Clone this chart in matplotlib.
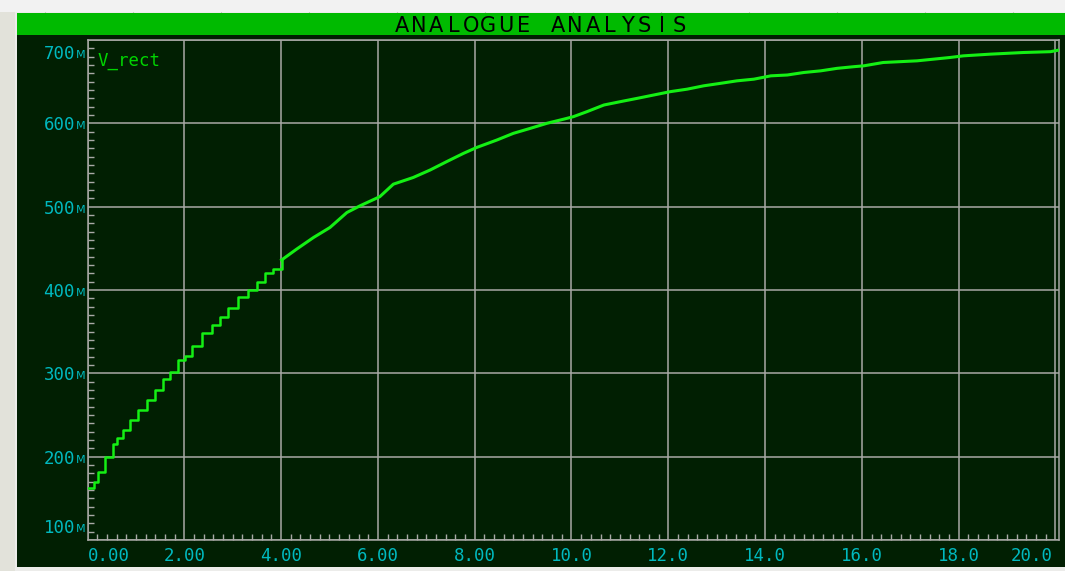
import numpy as np
import matplotlib.pyplot as plt
from matplotlib.patches import Rectangle
from matplotlib import transforms

# V_rect readings (time, volts) taken from the trace
t = [0.0, 0.14, 0.21, 0.36, 0.53, 0.60, 0.74, 0.88, 1.05, 1.22, 1.39, 1.57, 1.70,
     1.88, 2.01, 2.15, 2.36, 2.57, 2.74, 2.91, 3.12, 3.32, 3.50, 3.67, 3.84, 4.01,
     4.32, 4.67, 5.01, 5.36, 5.63, 6.04, 6.32, 6.73, 7.08, 7.42, 7.77, 8.04, 8.46,
     8.80, 9.15, 9.49, 9.84, 10.04, 10.32, 10.67, 11.01, 11.36, 11.70, 12.04, 12.39,
     12.73, 13.08, 13.42, 13.77, 14.12, 14.46, 14.80, 15.15, 15.49, 15.84, 16.04,
     16.44, 17.14, 17.82, 18.10, 18.65, 19.34, 19.90, 20.08]
v_rect = [0.162, 0.170, 0.182, 0.200, 0.215, 0.223, 0.232, 0.244, 0.256, 0.268, 0.280,
          0.293, 0.302, 0.316, 0.321, 0.333, 0.348, 0.358, 0.368, 0.378, 0.392, 0.400,
          0.410, 0.421, 0.425, 0.436, 0.449, 0.463, 0.475, 0.493, 0.501, 0.512, 0.527,
          0.535, 0.544, 0.554, 0.564, 0.571, 0.580, 0.588, 0.594, 0.600, 0.605, 0.608,
          0.614, 0.622, 0.626, 0.630, 0.634, 0.638, 0.641, 0.645, 0.648, 0.651, 0.653,
          0.657, 0.658, 0.661, 0.663, 0.666, 0.668, 0.669, 0.673, 0.675, 0.679, 0.681,
          0.683, 0.685, 0.686, 0.688]

x_ticks = [0, 2, 4, 6, 8, 10, 12, 14, 16, 18, 20]
x_labels = ['0.00', '2.00', '4.00', '6.00', '8.00', '10.0', '12.0', '14.0', '16.0', '18.0', '20.0']
y_ticks = [0.1, 0.2, 0.3, 0.4, 0.5, 0.6, 0.7]
y_labels = ['100', '200', '300', '400', '500', '600', '700']
title = 'ANALOGUE ANALYSIS'
trace_name = 'V_rect'

W, H = 1065, 571
dark = '#011f02'
grid_c = '#a9a9a6'
cyan = '#00b9bf'
lime = '#14f014'

fig = plt.figure(figsize=(W / 100, H / 100), dpi=100, facecolor='#ececea')

# outer frame / ruler strips
fig.patches.append(Rectangle((0, 0), 15 / W, 1, transform=fig.transFigure,
                             facecolor='#e2e2da', edgecolor='none', zorder=0))
fig.patches.append(Rectangle((0, (H - 12) / H), 1, 12 / H, transform=fig.transFigure,
                             facecolor='#f2f2f2', edgecolor='none', zorder=0))
for yy in range(30, H, 88):
    fig.add_artist(plt.Line2D([0, 12 / W], [(H - yy) / H] * 2, color='#c8c8c0', lw=0.8, zorder=0))
for xx in range(45, W, 88):
    fig.add_artist(plt.Line2D([xx / W] * 2, [(H - 12) / H, (H - 9) / H], color='#c8c8c0', lw=0.8, zorder=0))

# dark panel and title bar
fig.patches.append(Rectangle((17 / W, (H - 567) / H), (W - 17) / W, (567 - 35) / H,
                             transform=fig.transFigure, facecolor=dark, edgecolor='none', zorder=0))
fig.patches.append(Rectangle((17 / W, (H - 35) / H), (W - 17) / W, 22 / H,
                             transform=fig.transFigure, facecolor='#00ba00', edgecolor='none', zorder=0))
x0, step = 393, 17.35
for i, ch in enumerate(title):
    fig.text((x0 + step * (i + 0.5)) / W, (H - 24.5) / H, ch, ha='center', va='center_baseline',
             fontsize=15, family='DejaVu Sans', color='black')

ax = fig.add_axes([87.5 / W, (H - 540) / H, 971.8 / W, 500 / H])
ax.set_zorder(5)
ax.set_facecolor(dark)
# early part: clear staircase; later part: dense fine steps -> drawn as a jagged line
k = 26
ax.plot(t[:k], v_rect[:k], drawstyle='steps-post', color=lime, lw=1.8, zorder=3)
ax.plot(t[k - 1:], v_rect[k - 1:], color=lime, lw=2.2, zorder=3)
ax.set_xlim(0, 20.08)
ax.set_ylim(0.105, 0.699)

ax.set_xticks(x_ticks)
ax.set_yticks(y_ticks)
ax.set_xticks(np.arange(0, 20.1, 0.2), minor=True)
ax.set_yticks(np.arange(0.1, 0.701, 0.01), minor=True)
ax.tick_params(which='both', direction='in', color=grid_c, labelbottom=False, labelleft=False)
ax.tick_params(which='major', length=0)
ax.tick_params(which='minor', length=4, width=1.0)
ax.grid(True, which='major', color=grid_c, lw=1.1)
for s in ax.spines.values():
    s.set_color(grid_c)
    s.set_linewidth(1.1)

# x tick labels
tx = transforms.blended_transform_factory(ax.transData, ax.transAxes)
for i, (xv, lab) in enumerate(zip(x_ticks, x_labels)):
    ha = 'left' if i == 0 else ('right' if i == len(x_ticks) - 1 else 'center')
    dx = -3 if i == len(x_ticks) - 1 else 0
    tr = transforms.offset_copy(tx, fig=fig, x=dx, y=-14, units='dots')
    ax.text(xv, 0, lab, transform=tr, ha=ha, va='center_baseline', fontsize=12.5,
            family='DejaVu Sans Mono', color=cyan, clip_on=False)

# y tick labels with small "M" suffix
ty = transforms.blended_transform_factory(ax.transAxes, ax.transData)
for i, (yv, lab) in enumerate(zip(y_ticks, y_labels)):
    if i == 0:
        yy, dy = 0.105, 10
    elif i == len(y_ticks) - 1:
        yy, dy = 0.699, -11
    else:
        yy, dy = yv, 0
    tr = transforms.offset_copy(ty, fig=fig, x=-12.5, y=dy, units='dots')
    ax.text(0, yy, lab, transform=tr, ha='right', va='center_baseline', fontsize=12.5,
            family='DejaVu Sans Mono', color=cyan, clip_on=False)
    tr2 = transforms.offset_copy(ty, fig=fig, x=-12, y=dy - 2, units='dots')
    ax.text(0, yy, 'M', transform=tr2, ha='left', va='center_baseline', fontsize=8,
            family='DejaVu Sans', color=cyan, clip_on=False)

ax.text(0.01, 0.976, trace_name, transform=ax.transAxes, ha='left', va='top',
        fontsize=12.5, family='DejaVu Sans Mono', color='#00d400')

fig.savefig('out.png', dpi=100, facecolor=fig.get_facecolor())
